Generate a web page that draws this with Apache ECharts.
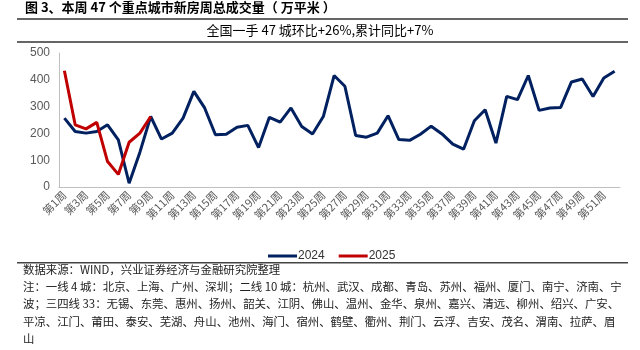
<!DOCTYPE html>
<html>
<head>
<meta charset="utf-8">
<script src="https://cdn.jsdelivr.net/npm/echarts@6/dist/echarts.min.js"></script>
<style>html,body{margin:0;padding:0;background:#fff;}#c{width:640px;height:350px;}</style>
</head>
<body>
<div id="c"></div>
<script>
const weeks = [];
for (let i = 1; i <= 52; i++) weeks.push('第' + i + '周');
const s2024 = [257, 207, 201, 207, 232, 176, 14, 130, 263, 179, 201, 257, 357, 295, 195, 197, 223, 230, 147, 260, 242, 295, 226, 198, 263, 416, 376, 192, 186, 201, 266, 177, 174, 197, 227, 198, 160, 141, 247, 288, 164, 338, 326, 416, 286, 295, 297, 392, 403, 338, 407, 432];
const s2025 = [434, 232, 217, 241, 95, 47, 167, 201, 263];
const seriesNames = ['2024', '2025'];
const yTicks = [0, 100, 200, 300, 400, 500];
const titleText = '图 3、本周 47 个重点城市新房周总成交量（ 万平米 ）';
const subtitleText = '全国一手 47 城环比+26%,累计同比+7%';
const notes = [
  '数据来源：WIND，兴业证券经济与金融研究院整理',
  '注：一线 4 城：北京、上海、广州、深圳；二线 10 城：杭州、武汉、成都、青岛、苏州、福州、厦门、南宁、济南、宁',
  '波；三四线 33：无锡、东莞、惠州、扬州、韶关、江阴、佛山、温州、金华、泉州、嘉兴、清远、柳州、绍兴、广安、',
  '平凉、江门、莆田、泰安、芜湖、舟山、池州、海门、宿州、鹤壁、衢州、荆门、云浮、吉安、茂名、渭南、拉萨、眉',
  '山'
];

const FONT = '"Noto Sans CJK SC", "Liberation Sans", sans-serif';
const chart = echarts.init(document.getElementById('c'), null, {renderer: 'canvas'});

const graphic = [
  {type: 'text', left: 25, top: 1, style: {text: titleText, font: 'bold 13px ' + FONT, fill: '#000'}},
  {type: 'rect', shape: {x: 17, y: 18, width: 611, height: 2}, style: {fill: '#666'}},
  {type: 'text', left: 'center', top: 24, style: {text: subtitleText, font: '13px ' + FONT, fill: '#000'}},
  {type: 'rect', shape: {x: 17, y: 41, width: 611, height: 2}, style: {fill: '#666'}},
  {type: 'rect', shape: {x: 17, y: 262, width: 611, height: 1.5}, style: {fill: '#444'}}
];
notes.forEach((t, i) => {
  graphic.push({type: 'text', left: 23, top: 264 + i * 17.2, style: {text: t, font: '11.4px ' + FONT, fill: '#222'}});
});

chart.setOption({
  animation: false,
  textStyle: {fontFamily: FONT},
  grid: {left: 59, right: 20, top: 53, bottom: 163},
  legend: {
    left: 263, top: 245,
    icon: 'rect', itemWidth: 29, itemHeight: 3, itemGap: 14,
    textStyle: {fontSize: 12, color: '#333', fontFamily: '"Liberation Sans", sans-serif', padding: [0, 0, 0, -4]},
    data: seriesNames
  },
  xAxis: {
    type: 'category',
    data: weeks,
    boundaryGap: true,
    axisLine: {lineStyle: {color: '#bfbfbf', width: 1}},
    axisTick: {show: false},
    axisLabel: {interval: 1, rotate: 45, fontSize: 11, color: '#595959', margin: 6}
  },
  yAxis: {
    type: 'value',
    min: yTicks[0], max: yTicks[yTicks.length - 1], interval: 100,
    axisLine: {show: true, lineStyle: {color: '#bfbfbf'}},
    axisTick: {show: false},
    splitLine: {show: false},
    axisLabel: {fontSize: 12, color: '#595959', margin: 9, fontFamily: '"Liberation Sans", sans-serif'}
  },
  series: [
    {name: seriesNames[0], type: 'line', data: s2024, showSymbol: false, symbol: 'none',
     lineStyle: {color: '#002060', width: 3}, itemStyle: {color: '#002060'}},
    {name: seriesNames[1], type: 'line', data: s2025, showSymbol: false, symbol: 'none',
     lineStyle: {color: '#C00000', width: 3}, itemStyle: {color: '#C00000'}}
  ],
  graphic: graphic
});
</script>
</body>
</html>
